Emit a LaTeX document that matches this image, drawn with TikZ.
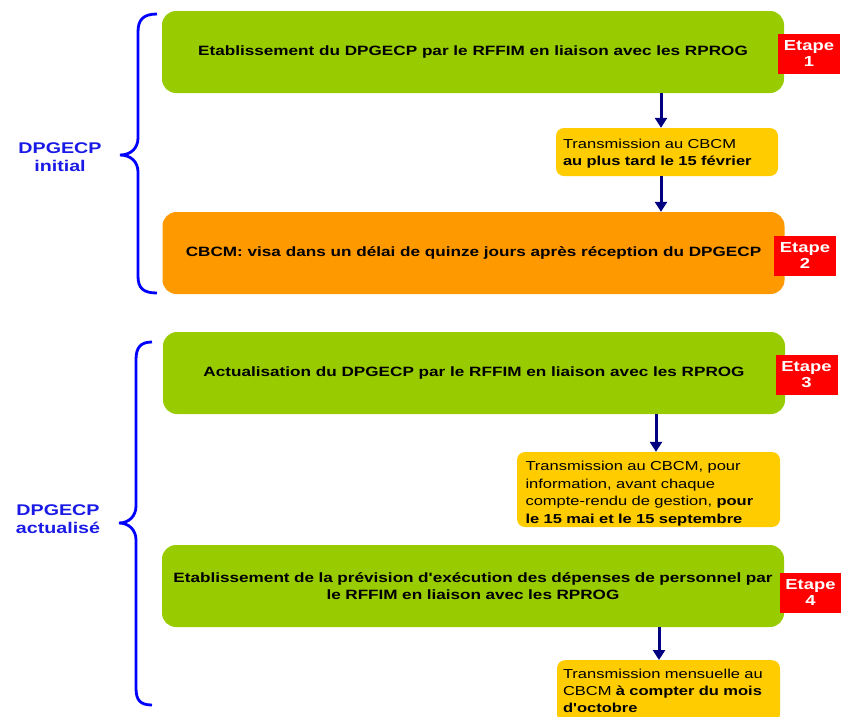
\documentclass[tikz,border=0pt]{standalone}
\usepackage{fontspec}
\setmainfont[FakeStretch=1.27, Ligatures=TeXOff]{Liberation Sans}
\usetikzlibrary{arrows.meta}
\definecolor{stepgreen}{HTML}{99CC00}
\definecolor{steporange}{HTML}{FF9900}
\definecolor{stepyellow}{HTML}{FFCC00}
\definecolor{stepred}{HTML}{FF0000}
\definecolor{arrownavy}{HTML}{000080}
\definecolor{braceblue}{HTML}{0000FF}
\definecolor{labelblue}{HTML}{1A1AE6}
\tikzset{
  mainbox/.style={rounded corners=14pt, minimum width=622pt, minimum height=82pt,
    inner sep=0pt, align=center, font=\bfseries\fontsize{13.5}{17}\selectfont},
  greenbox/.style={mainbox, fill=stepgreen},
  orangebox/.style={mainbox, fill=steporange},
  notebox/.style={fill=stepyellow, rounded corners=8pt, inner sep=0pt, align=left,
    font=\fontsize{13}{17}\selectfont},
  etapebox/.style={fill=stepred, text=white, minimum width=62pt, minimum height=40pt,
    inner sep=0pt, align=center, font=\bfseries\fontsize{14.5}{16}\selectfont},
  flowarrow/.style={draw=arrownavy, line width=3pt, -{Triangle[width=12pt,length=10pt]}},
  bracepath/.style={draw=braceblue, line width=2.8pt},
  grouplabel/.style={text=labelblue, align=center, font=\bfseries\fontsize{15.5}{18}\selectfont}
}
\begin{document}
\begin{tikzpicture}[x=1pt,y=-1pt]
\useasboundingbox (0,0) rectangle (841,716);
% main boxes
\node[greenbox] (b1) at (473,52) {Etablissement du DPGECP par le RFFIM en liaison avec les RPROG};
\node[orangebox] (b2) at (473.5,253) {CBCM: visa dans un délai de quinze jours après réception du DPGECP};
\node[greenbox] (b3) at (474,373) {Actualisation du DPGECP par le RFFIM en liaison avec les RPROG};
\node[greenbox, text width=616pt] (b4) at (473,586) {Etablissement de la prévision d'exécution des dépenses de personnel par\\le RFFIM en liaison avec les RPROG};
% etape boxes
\node[etapebox] (e1) at (809,54) {Etape\\1};
\node[etapebox] (e2) at (805,256) {Etape\\2};
\node[etapebox] (e3) at (806.5,375) {Etape\\3};
\node[etapebox] (e4) at (810.5,592.5) {Etape\\4};
% note boxes
\node[notebox, minimum width=222pt, minimum height=48pt, text width=208pt] (n1) at (667,152)
  {\rule{0pt}{13.5pt}Transmission au CBCM\\\textbf{au plus tard le 15 février}};
\node[notebox, minimum width=263pt, minimum height=75pt, text width=246pt,
  font=\fontsize{13}{17.5}\selectfont] (n3) at (648.5,489.5)
  {\rule{0pt}{17.5pt}Transmission au CBCM, pour\\information, avant chaque\\compte-rendu de gestion, \textbf{pour}\\\textbf{le 15 mai et le 15 septembre}};
\node[notebox, minimum width=223pt, minimum height=62pt, text width=211pt, anchor=north] (n4) at (668.5,660)
  {Transmission mensuelle au\\CBCM \textbf{à compter du mois}\\\textbf{d'octobre}};
% arrows
\coordinate (x1) at (661,0);
\coordinate (x3) at (656,0);
\coordinate (x4) at (659,0);
\draw[flowarrow] (b1.south -| x1) -- (n1.north -| x1);
\draw[flowarrow] (n1.south -| x1) -- (b2.north -| x1);
\draw[flowarrow] (b3.south -| x3) -- (n3.north -| x3);
\draw[flowarrow] (b4.south -| x4) -- (n4.north -| x4);
% braces
\draw[bracepath] (157,14) .. controls (143,14) and (138,20) .. (138,32) -- (138,138)
  .. controls (138,148) and (131,155) .. (120,155)
  .. controls (131,155) and (138,162) .. (138,172) -- (138,276)
  .. controls (138,288) and (143,293) .. (157,293);
\draw[bracepath] (152,342) .. controls (140,342) and (136,348) .. (136,360) -- (136,506)
  .. controls (136,516) and (129,523) .. (119,523)
  .. controls (129,523) and (136,530) .. (136,540) -- (136,688)
  .. controls (136,700) and (140,705) .. (152,705);
% labels
\node[grouplabel] (l1) at (60,157) {DPGECP\\initial};
\node[grouplabel] (l2) at (58,519) {DPGECP\\actualisé};
\end{tikzpicture}
\end{document}
